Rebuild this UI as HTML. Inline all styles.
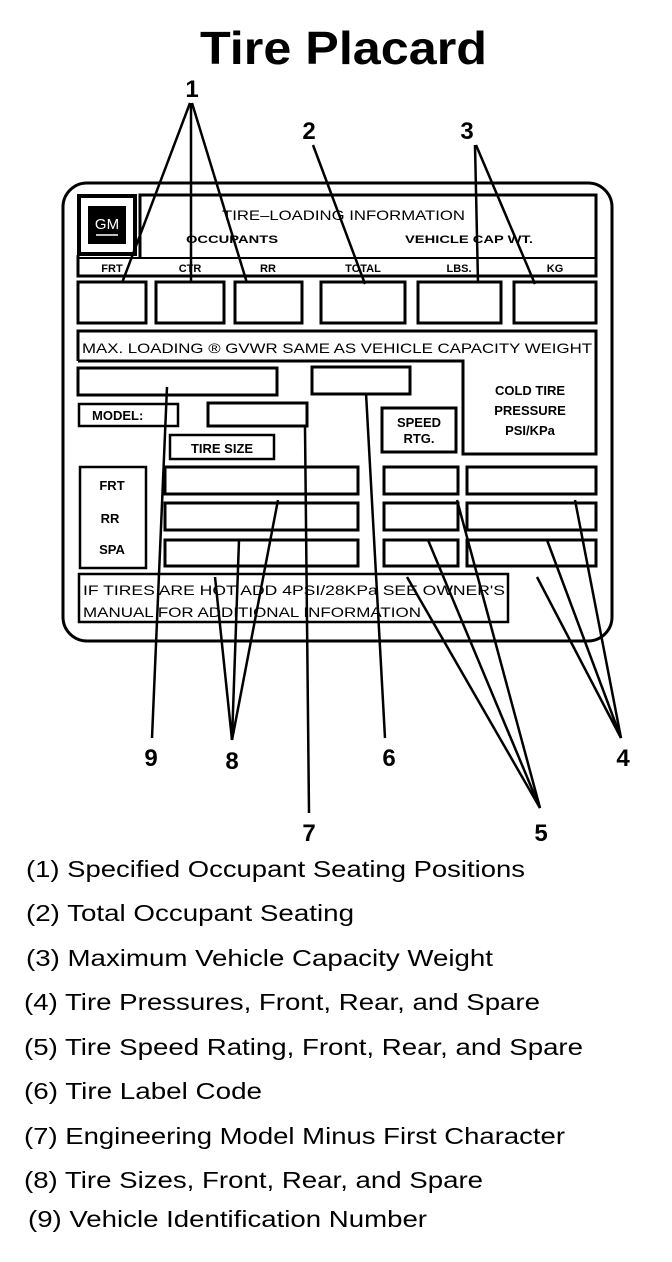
<!DOCTYPE html>
<html><head><meta charset="utf-8"><style>
html,body{margin:0;padding:0;background:#fff;}
svg{display:block;}
text{font-family:"Liberation Sans",Arial,sans-serif;fill:#000;}
</style></head><body>
<svg width="672" height="1262" viewBox="0 0 672 1262" xmlns="http://www.w3.org/2000/svg">
<text x="200" y="64" font-size="46" font-weight="bold" textLength="287" lengthAdjust="spacingAndGlyphs">Tire Placard</text>

<g fill="none" stroke="#000" stroke-width="3">
<rect x="63" y="183" width="549" height="458" rx="24"/>
<polyline points="140,258 140,195 596,195 596,276 78,276 78,255"/>
<rect x="79" y="196" width="56" height="58" stroke-width="4"/>
<line x1="78" y1="258" x2="596" y2="258" stroke-width="2"/>
<rect x="78" y="282" width="68" height="41"/>
<rect x="156" y="282" width="68" height="41"/>
<rect x="235" y="282" width="67" height="41"/>
<rect x="321" y="282" width="84" height="41"/>
<rect x="418" y="282" width="83" height="41"/>
<rect x="514" y="282" width="82" height="41"/>
<polyline points="78,361 78,331 596,331 596,454 463,454 463,361 78,361"/>
<rect x="78" y="368" width="199" height="27"/>
<rect x="312" y="367" width="98" height="27"/>
<rect x="79" y="404" width="99" height="22" stroke-width="2.5"/>
<rect x="208" y="403" width="99" height="23"/>
<rect x="170" y="435" width="104" height="24" stroke-width="2.5"/>
<rect x="382" y="408" width="74" height="44"/>
<rect x="80" y="467" width="66" height="101" stroke-width="2.5"/>
<rect x="165" y="467" width="193" height="27"/>
<rect x="165" y="503" width="193" height="27"/>
<rect x="165" y="540" width="193" height="26"/>
<rect x="384" y="467" width="74" height="27"/>
<rect x="384" y="503" width="74" height="27"/>
<rect x="384" y="540" width="74" height="26"/>
<rect x="467" y="467" width="129" height="27"/>
<rect x="467" y="503" width="129" height="27"/>
<rect x="467" y="540" width="129" height="26"/>
<rect x="79" y="574" width="429" height="48" stroke-width="2.5"/>
</g>

<rect x="88" y="206" width="38" height="38" fill="#000"/>
<text x="107" y="229" font-size="15" style="fill:#fff" text-anchor="middle">GM</text>
<line x1="96" y1="235" x2="118" y2="235" stroke="#fff" stroke-width="1.5"/>

<g font-size="13">
<text x="222" y="220" font-size="14" textLength="243" lengthAdjust="spacingAndGlyphs">TIRE–LOADING INFORMATION</text>
<text x="186" y="243" font-size="11" font-weight="bold" textLength="92" lengthAdjust="spacingAndGlyphs">OCCUPANTS</text>
<text x="405" y="243" font-size="11" font-weight="bold" textLength="128" lengthAdjust="spacingAndGlyphs">VEHICLE CAP WT.</text>
<g font-size="11" font-weight="bold" text-anchor="middle">
<text x="112" y="272">FRT</text><text x="190" y="272">CTR</text><text x="268" y="272">RR</text>
<text x="363" y="272">TOTAL</text><text x="459" y="272">LBS.</text><text x="555" y="272">KG</text>
</g>
<text x="82" y="353" font-size="14" textLength="510" lengthAdjust="spacingAndGlyphs">MAX. LOADING ® GVWR SAME AS VEHICLE CAPACITY WEIGHT</text>
<g font-size="13" font-weight="bold" text-anchor="middle">
<text x="530" y="395">COLD TIRE</text><text x="530" y="415">PRESSURE</text><text x="530" y="435">PSI/KPa</text>
<text x="419" y="427">SPEED</text><text x="419" y="443">RTG.</text>
<text x="222" y="453">TIRE SIZE</text>
<text x="112" y="490">FRT</text><text x="110" y="523">RR</text><text x="112" y="554">SPA</text>
</g>
<text x="92" y="420" font-size="13" font-weight="bold">MODEL:</text>
<text x="83" y="595" font-size="14" textLength="422" lengthAdjust="spacingAndGlyphs">IF TIRES ARE HOT ADD 4PSI/28KPa SEE OWNER'S</text>
<text x="83" y="617" font-size="14" textLength="338" lengthAdjust="spacingAndGlyphs">MANUAL FOR ADDITIONAL INFORMATION</text>
</g>

<g stroke="#000" stroke-width="2.5" fill="none">
<line x1="190" y1="103" x2="122" y2="283"/>
<line x1="191" y1="103" x2="191" y2="283"/>
<line x1="192" y1="103" x2="247" y2="283"/>
<line x1="313" y1="145" x2="365" y2="284"/>
<line x1="475" y1="145" x2="478" y2="283"/>
<line x1="476" y1="145" x2="535" y2="284"/>
<line x1="167" y1="387" x2="152" y2="738"/>
<line x1="232" y1="740" x2="278" y2="500"/>
<line x1="232" y1="740" x2="239" y2="540"/>
<line x1="232" y1="740" x2="215" y2="577"/>
<line x1="305" y1="427" x2="309" y2="813"/>
<line x1="366" y1="393" x2="385" y2="738"/>
<line x1="540" y1="808" x2="457" y2="500"/>
<line x1="540" y1="808" x2="428" y2="540"/>
<line x1="540" y1="808" x2="407" y2="577"/>
<line x1="621" y1="738" x2="575" y2="500"/>
<line x1="621" y1="738" x2="547" y2="540"/>
<line x1="621" y1="738" x2="537" y2="577"/>
</g>
<g font-size="24" font-weight="bold" text-anchor="middle">
<text x="192" y="97">1</text><text x="309" y="139">2</text><text x="467" y="139">3</text>
<text x="151" y="766">9</text><text x="232" y="769">8</text><text x="389" y="766">6</text>
<text x="623" y="766">4</text><text x="309" y="841">7</text><text x="541" y="841">5</text>
</g>

<g font-size="23" lengthAdjust="spacingAndGlyphs">
<text x="26" y="877" textLength="499" lengthAdjust="spacingAndGlyphs">(1) Specified Occupant Seating Positions</text>
<text x="26" y="921" textLength="328" lengthAdjust="spacingAndGlyphs">(2) Total Occupant Seating</text>
<text x="26" y="966" textLength="467" lengthAdjust="spacingAndGlyphs">(3) Maximum Vehicle Capacity Weight</text>
<text x="24" y="1010" textLength="516" lengthAdjust="spacingAndGlyphs">(4) Tire Pressures, Front, Rear, and Spare</text>
<text x="24" y="1055" textLength="559" lengthAdjust="spacingAndGlyphs">(5) Tire Speed Rating, Front, Rear, and Spare</text>
<text x="24" y="1099" textLength="238" lengthAdjust="spacingAndGlyphs">(6) Tire Label Code</text>
<text x="24" y="1144" textLength="541" lengthAdjust="spacingAndGlyphs">(7) Engineering Model Minus First Character</text>
<text x="24" y="1188" textLength="459" lengthAdjust="spacingAndGlyphs">(8) Tire Sizes, Front, Rear, and Spare</text>
<text x="28" y="1227" textLength="399" lengthAdjust="spacingAndGlyphs">(9) Vehicle Identification Number</text>
</g>
</svg>
</body></html>
